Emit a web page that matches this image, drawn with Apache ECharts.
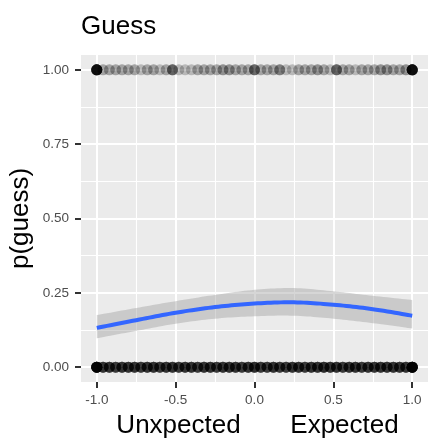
<!DOCTYPE html>
<html>
<head>
<meta charset="utf-8">
<script src="https://cdn.jsdelivr.net/npm/echarts@6/dist/echarts.min.js"></script>
<style>
html,body{margin:0;padding:0;background:#fff;}
#chart{width:428px;height:439px;}
</style>
</head>
<body>
<div id="chart"></div>
<script>
// ---- data ----
const xLevels = [-1.00,-0.96,-0.92,-0.88,-0.84,-0.80,-0.76,-0.72,-0.68,-0.64,-0.60,-0.56,-0.52,-0.48,-0.44,-0.40,-0.36,-0.32,-0.28,-0.24,-0.20,-0.16,-0.12,-0.08,-0.04,0.00,0.04,0.08,0.12,0.16,0.20,0.24,0.28,0.32,0.36,0.40,0.44,0.48,0.52,0.56,0.60,0.64,0.68,0.72,0.76,0.80,0.84,0.88,0.92,0.96,1.00];
const guessCounts = [22,3,3,3,3,3,3,2,3,3,2,3,7,2,2,2,3,3,3,3,4,4,3,3,3,7,3,3,3,5,2,2,3,3,3,4,3,2,7,3,3,2,3,3,3,4,4,3,3,4,22];
const noGuessCounts = [30,12,12,11,12,12,12,11,12,12,11,12,12,11,12,12,11,12,12,11,12,12,12,11,12,13,11,11,12,11,11,12,12,11,12,12,13,12,12,11,12,12,11,12,12,12,12,12,12,12,30];
const curveX = [-1.0,-0.75,-0.5,-0.25,0.0,0.25,0.5,0.75,1.0];
const curveFit = [0.132,0.158,0.183,0.202,0.214,0.218,0.210,0.195,0.173];
const bandLower = [0.097,0.122,0.146,0.163,0.171,0.173,0.163,0.148,0.130];
const bandUpper = [0.175,0.199,0.222,0.243,0.260,0.266,0.255,0.240,0.226];
const xMajorTicks = [-1.0,-0.5,0.0,0.5,1.0];
const xMinorTicks = [-0.75,-0.25,0.25,0.75];
const yMajorTicks = [0.00,0.25,0.50,0.75,1.00];
const yMinorTicks = [0.125,0.375,0.625,0.875];
const titleText = 'Guess';
const yTitle = 'p(guess)';
const xTitleLeft = 'Unxpected';
const xTitleRight = 'Expected';

const FONT = '"Liberation Sans", Arial, Helvetica, sans-serif';

function expand(counts, yVal) {
  const out = [];
  xLevels.forEach((x, i) => { for (let k = 0; k < counts[i]; k++) out.push([x, yVal]); });
  return out;
}

// Catmull-Rom sampled path through screen points (rendering only)
function smoothPts(P) {
  const out = [];
  const n = P.length;
  for (let i = 0; i < n - 1; i++) {
    const p0 = P[Math.max(i - 1, 0)], p1 = P[i], p2 = P[i + 1], p3 = P[Math.min(i + 2, n - 1)];
    const c1 = [p1[0] + (p2[0] - p0[0]) / 6, p1[1] + (p2[1] - p0[1]) / 6];
    const c2 = [p2[0] - (p3[0] - p1[0]) / 6, p2[1] - (p3[1] - p1[1]) / 6];
    const steps = 12;
    for (let s = 0; s < steps; s++) {
      const t = s / steps, u = 1 - t;
      out.push([
        u*u*u*p1[0] + 3*u*u*t*c1[0] + 3*u*t*t*c2[0] + t*t*t*p2[0],
        u*u*u*p1[1] + 3*u*u*t*c1[1] + 3*u*t*t*c2[1] + t*t*t*p2[1]
      ]);
    }
  }
  out.push(P[n - 1]);
  return out;
}

const chart = echarts.init(document.getElementById('chart'), null, {renderer: 'canvas'});

const xBase = {min: -1.1, max: 1.1, type: 'value', gridIndex: 0};
const yBase = {min: -0.05, max: 1.05, type: 'value', gridIndex: 0};

const option = {
  animation: false,
  backgroundColor: '#ffffff',
  title: {
    text: titleText, left: 81, top: 14, padding: 0,
    textStyle: {fontFamily: FONT, fontSize: 26, fontWeight: 'normal', color: '#000000'}
  },
  grid: {
    left: 81, right: -6, top: 55, bottom: 57,
    show: true, backgroundColor: '#EBEBEB', borderWidth: 0, containLabel: false
  },
  xAxis: [
    Object.assign({}, xBase, {
      position: 'bottom',
      axisLine: {show: false, onZero: false},
      axisTick: {show: true, length: 6, customValues: xMajorTicks, lineStyle: {color: '#333333', width: 2}},
      axisLabel: {show: true, customValues: xMajorTicks, margin: 11, color: '#4D4D4D', fontSize: 13.5, fontFamily: FONT,
        formatter: v => v.toFixed(1)},
      splitLine: {show: true, lineStyle: {color: '#FFFFFF', width: 2}}
    }),
    Object.assign({}, xBase, {
      position: 'top',
      axisLine: {show: false, onZero: false},
      axisTick: {show: false, customValues: xMinorTicks},
      axisLabel: {show: false, customValues: xMinorTicks},
      splitLine: {show: true, lineStyle: {color: '#FFFFFF', width: 1.1}}
    })
  ],
  yAxis: [
    Object.assign({}, yBase, {
      position: 'left',
      axisLine: {show: false, onZero: false},
      axisTick: {show: true, length: 6, customValues: yMajorTicks, lineStyle: {color: '#333333', width: 2}},
      axisLabel: {show: true, customValues: yMajorTicks, margin: 12, color: '#4D4D4D', fontSize: 13.5, fontFamily: FONT,
        formatter: v => v.toFixed(2)},
      splitLine: {show: true, lineStyle: {color: '#FFFFFF', width: 2}}
    }),
    Object.assign({}, yBase, {
      position: 'right',
      axisLine: {show: false, onZero: false},
      axisTick: {show: false, customValues: yMinorTicks},
      axisLabel: {show: false, customValues: yMinorTicks},
      splitLine: {show: true, lineStyle: {color: '#FFFFFF', width: 1.1}}
    })
  ],
  series: [
    {
      type: 'scatter', xAxisIndex: 0, yAxisIndex: 0,
      data: expand(guessCounts, 1),
      symbol: 'circle', symbolSize: 11,
      itemStyle: {color: 'rgba(0,0,0,0.14)'},
      silent: true, z: 2
    },
    {
      type: 'scatter', xAxisIndex: 0, yAxisIndex: 0,
      data: expand(noGuessCounts, 0),
      symbol: 'circle', symbolSize: 11,
      itemStyle: {color: 'rgba(0,0,0,0.15)'},
      silent: true, z: 2
    },
    {
      type: 'custom', xAxisIndex: 0, yAxisIndex: 0,
      data: [[0, 0]],
      silent: true, z: 3,
      renderItem: function (params, api) {
        const up = curveX.map((x, i) => api.coord([x, bandUpper[i]]));
        const lo = curveX.map((x, i) => api.coord([x, bandLower[i]]));
        const pts = smoothPts(up).concat(smoothPts(lo).reverse());
        return {type: 'polygon', shape: {points: pts}, style: {fill: 'rgba(153,153,153,0.4)', stroke: 'none'}};
      }
    },
    {
      type: 'custom', xAxisIndex: 0, yAxisIndex: 0,
      data: [[0, 0]],
      silent: true, z: 4,
      renderItem: function (params, api) {
        const pts = smoothPts(curveX.map((x, i) => api.coord([x, curveFit[i]])));
        return {type: 'polyline', shape: {points: pts},
          style: {stroke: '#3366FF', lineWidth: 4, fill: 'none', lineJoin: 'round', lineCap: 'butt'}};
      }
    }
  ],
  graphic: [
    {type: 'text', x: 21, y: 218.5, rotation: Math.PI / 2,
      style: {text: yTitle, fontSize: 26, fontFamily: FONT, fill: '#000000', align: 'center', verticalAlign: 'middle'}},
    {type: 'text', x: 178.5, y: 426,
      style: {text: xTitleLeft, fontSize: 26, fontFamily: FONT, fill: '#000000', align: 'center', verticalAlign: 'middle'}},
    {type: 'text', x: 344.5, y: 426,
      style: {text: xTitleRight, fontSize: 26, fontFamily: FONT, fill: '#000000', align: 'center', verticalAlign: 'middle'}}
  ]
};

chart.setOption(option);
</script>
</body>
</html>
